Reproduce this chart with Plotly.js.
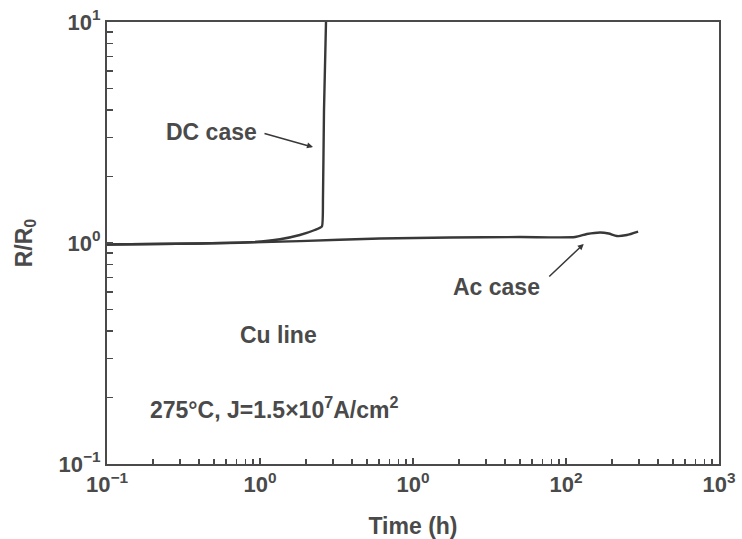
<!DOCTYPE html>
<html>
<head>
<meta charset="utf-8">
<script src="https://cdn.plot.ly/plotly-3.0.1.min.js"></script>
<style>
  html, body { margin: 0; padding: 0; background: #ffffff; }
  #chart { width: 742px; height: 539px; }
</style>
</head>
<body>
<div id="chart"></div>
<script>
// Resistance ratio R/R0 versus stress time for a Cu line, 275°C, J = 1.5e7 A/cm^2

// DC stress: slow rise, then abrupt open-circuit failure
const dcTime  = [0.1,   0.405, 0.86,  1.35, 1.82,  2.28,  2.54, 2.58, 2.62, 2.70];
const dcRatio = [0.985, 0.995, 1.008, 1.04, 1.087, 1.145, 1.19, 1.6,  4.0,  10.0];

// AC stress: nearly flat to ~300 h
const acTime  = [0.1,   0.405, 1.82, 6.08,  17.5,  50,    114.6, 137,   167,   190,   215,   250,   296];
const acRatio = [0.985, 0.995, 1.02, 1.048, 1.059, 1.064, 1.064, 1.098, 1.116, 1.104, 1.075, 1.087, 1.127];

// Axis ticks (decade labels as printed on the figure)
const xTickVals = [0.1, 1, 10, 100, 1000];
const xTickText = ['10<sup>−1</sup>', '10<sup>0</sup>', '10<sup>0</sup>', '10<sup>2</sup>', '10<sup>3</sup>'];
const yTickVals = [0.1, 1, 10];
const yTickText = ['10<sup>−1</sup>', '10<sup>0</sup>', '10<sup>1</sup>'];

const minorX = [];
[0.1, 1, 10, 100].forEach(d => { for (let k = 2; k <= 9; k++) minorX.push(+(k * d).toPrecision(3)); });
const minorY = [];
[0.1, 1].forEach(d => { for (let k = 2; k <= 9; k++) minorY.push(+(k * d).toPrecision(3)); });

const ink = '#383838';
const textInk = '#4a4a4a';
const fontFam = '"Liberation Sans", Arial, Helvetica, sans-serif';
const labelFont = { family: fontFam, size: 23, color: textInk, weight: 'bold' };
const tickFont = { family: fontFam, size: 22, color: textInk, weight: 'bold' };

const traces = [
  { x: dcTime, y: dcRatio, type: 'scatter', mode: 'lines', name: 'DC case',
    line: { color: ink, width: 2.4, shape: 'spline', smoothing: 0.4 } },
  { x: acTime, y: acRatio, type: 'scatter', mode: 'lines', name: 'Ac case',
    line: { color: ink, width: 2.4, shape: 'spline', smoothing: 0.6 } }
];

const axisCommon = {
  type: 'log',
  showgrid: false,
  zeroline: false,
  showline: true,
  linecolor: '#4a4a4a',
  linewidth: 2,
  mirror: true,
  ticks: 'inside',
  ticklen: 6,
  tickwidth: 1.5,
  tickcolor: '#4a4a4a',
  tickmode: 'array',
  tickfont: tickFont,
  automargin: false
};

const layout = {
  width: 742,
  height: 539,
  paper_bgcolor: '#ffffff',
  plot_bgcolor: '#ffffff',
  showlegend: false,
  margin: { l: 107, r: 23, t: 22, b: 75 },
  font: { family: fontFam, color: textInk, size: 22 },
  xaxis: Object.assign({}, axisCommon, {
    range: [-1, 3],
    tickvals: xTickVals,
    ticktext: xTickText,
    minor: { tickmode: 'array', tickvals: minorX, ticks: 'inside', ticklen: 5, tickwidth: 1.3, tickcolor: '#4a4a4a' },
    title: { text: 'Time (h)', font: labelFont, standoff: 21 }
  }),
  yaxis: Object.assign({}, axisCommon, {
    range: [-1, 1],
    tickvals: yTickVals,
    ticktext: yTickText,
    minor: { tickmode: 'array', tickvals: minorY, ticks: 'inside', ticklen: 6, tickwidth: 1.3, tickcolor: '#4a4a4a' },
    title: { text: 'R/R<sub>0</sub>', font: labelFont, standoff: 20 }
  }),
  annotations: [
    { xref: 'paper', yref: 'paper', x: 0.170, y: 0.751, xanchor: 'center', yanchor: 'middle',
      text: 'DC case', showarrow: false, font: labelFont },
    { xref: 'paper', yref: 'paper', x: 0.3366, y: 0.717, text: '', showarrow: true,
      ax: -50, ay: -14, arrowhead: 2, arrowsize: 0.8, arrowwidth: 1.5, arrowcolor: ink },
    { xref: 'paper', yref: 'paper', x: 0.636, y: 0.400, xanchor: 'center', yanchor: 'middle',
      text: 'Ac case', showarrow: false, font: labelFont },
    { xref: 'paper', yref: 'paper', x: 0.779, y: 0.498, text: '', showarrow: true,
      ax: -36, ay: 34, arrowhead: 2, arrowsize: 0.8, arrowwidth: 1.5, arrowcolor: ink },
    { xref: 'paper', yref: 'paper', x: 0.281, y: 0.292, xanchor: 'center', yanchor: 'middle',
      text: 'Cu line', showarrow: false, font: labelFont },
    { xref: 'paper', yref: 'paper', x: 0.067, y: 0.127, xanchor: 'left', yanchor: 'middle',
      text: '275°C, J=1.5×10<sup>7</sup>A/cm<sup>2</sup>', showarrow: false, font: labelFont }
  ]
};

Plotly.newPlot('chart', traces, layout, { displayModeBar: false, staticPlot: true });
</script>
</body>
</html>
